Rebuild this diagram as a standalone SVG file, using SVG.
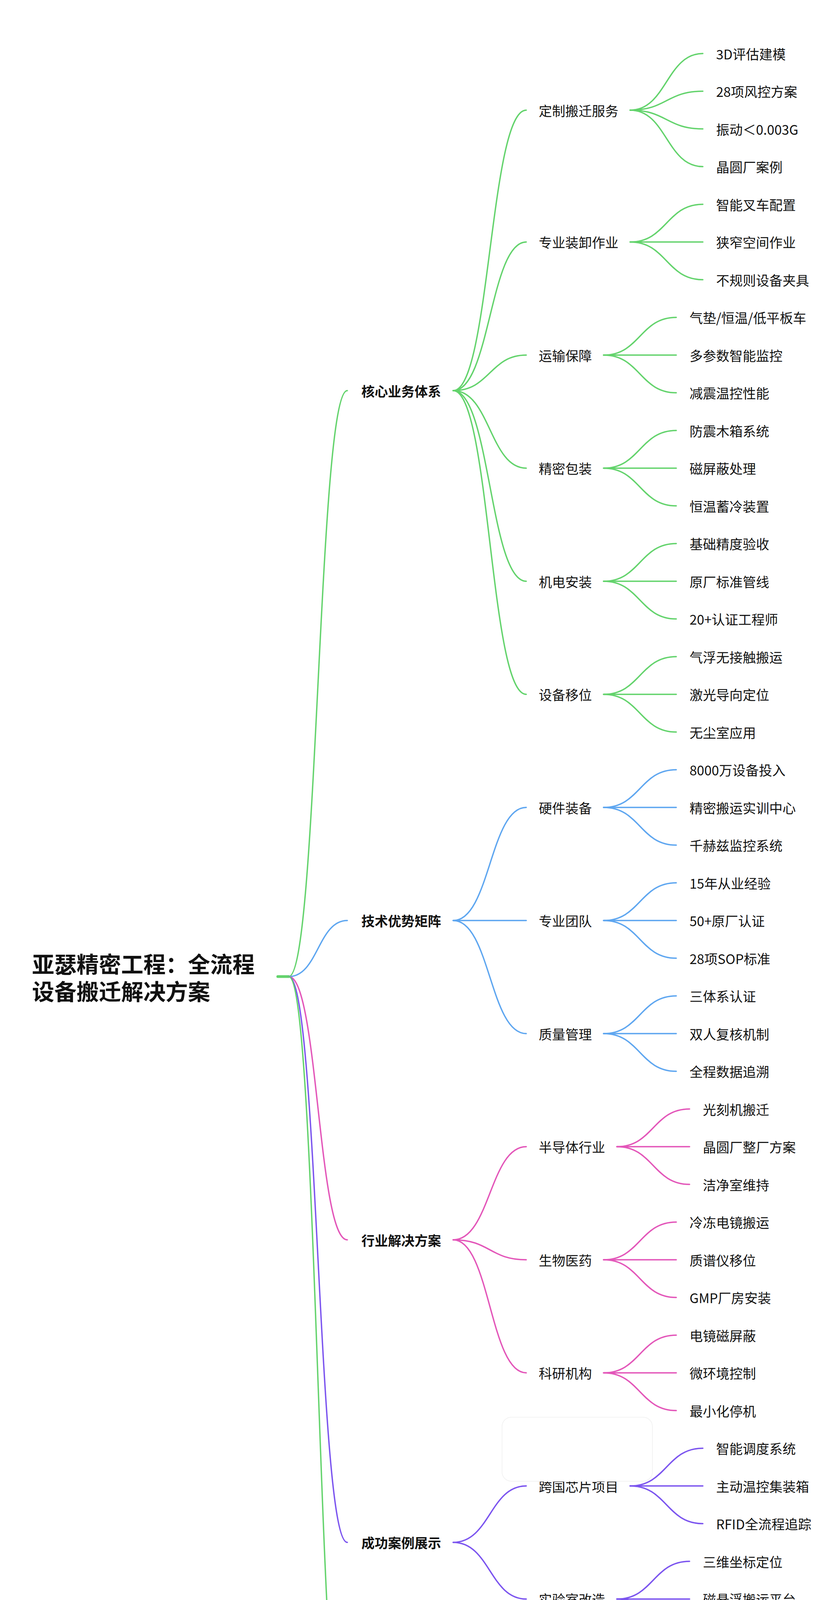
<svg xmlns="http://www.w3.org/2000/svg" width="2145" height="5000" viewBox="0 0 2145 5000">
<style>
text{font-family:"Noto Sans CJK SC","Noto Sans",sans-serif;font-size:34px;fill:#111;dominant-baseline:central}
.t{font-size:57px;font-weight:bold}
.l1{font-weight:bold}
path{fill:none;stroke-width:3.5;stroke-linecap:round}
.g{stroke:#63d36c}.b{stroke:#5ea6f0}.p{stroke:#e356b9}.u{stroke:#7b54ef}
</style>
<rect width="2145" height="5000" fill="#fff"/>
<g id="connectors">
<path class="g" d="M711,2500 H739" style="stroke-width:7"/>
<path class="g" d="M739,2500 C814,2500 814,1000 889,1000"/>
<path class="b" d="M739,2500 C814,2500 814,2356.5 889,2356.5"/>
<path class="p" d="M739,2500 C814,2500 814,3174 889,3174"/>
<path class="u" d="M739,2500 C814,2500 814,3948.5 889,3948.5"/>
<path class="g" d="M739,2500 C814,2500 814,4573 889,4573"/>
<path class="g" d="M1160,1000 C1254,1000 1254,282 1347,282"/>
<path class="g" d="M1160,1000 C1254,1000 1254,619.5 1347,619.5"/>
<path class="g" d="M1160,1000 C1254,1000 1254,909 1347,909"/>
<path class="g" d="M1160,1000 C1254,1000 1254,1198.5 1347,1198.5"/>
<path class="g" d="M1160,1000 C1254,1000 1254,1488 1347,1488"/>
<path class="g" d="M1160,1000 C1254,1000 1254,1777.5 1347,1777.5"/>
<path class="b" d="M1160,2356.5 C1254,2356.5 1254,2067 1347,2067"/>
<path class="b" d="M1160,2356.5 H1347"/>
<path class="b" d="M1160,2356.5 C1254,2356.5 1254,2646 1347,2646"/>
<path class="p" d="M1160,3174 C1254,3174 1254,2935.5 1347,2935.5"/>
<path class="p" d="M1160,3174 C1254,3174 1254,3225 1347,3225"/>
<path class="p" d="M1160,3174 C1254,3174 1254,3514.5 1347,3514.5"/>
<path class="u" d="M1160,3948.5 C1254,3948.5 1254,3804 1347,3804"/>
<path class="u" d="M1160,3948.5 C1254,3948.5 1254,4093.5 1347,4093.5"/>
<path class="g" d="M1091,4573 C1185,4573 1185,4334.75 1279,4334.75"/>
<path class="g" d="M1091,4573 C1185,4573 1185,4479.5 1279,4479.5"/>
<path class="g" d="M1091,4573 C1185,4573 1185,4576 1279,4576"/>
<path class="g" d="M1091,4573 C1185,4573 1185,4672.5 1279,4672.5"/>
<path class="g" d="M1091,4573 C1185,4573 1185,4769 1279,4769"/>
<path class="g" d="M1091,4573 C1185,4573 1185,4865.5 1279,4865.5"/>
<path class="g" d="M1613,282 C1706,282 1706,137 1799,137"/>
<path class="g" d="M1613,282 C1706,282 1706,233.5 1799,233.5"/>
<path class="g" d="M1613,282 C1706,282 1706,330 1799,330"/>
<path class="g" d="M1613,282 C1706,282 1706,426.5 1799,426.5"/>
<path class="g" d="M1613,619.5 C1706,619.5 1706,523 1799,523"/>
<path class="g" d="M1613,619.5 H1799"/>
<path class="g" d="M1613,619.5 C1706,619.5 1706,716 1799,716"/>
<path class="g" d="M1545,909 C1638,909 1638,812.5 1731,812.5"/>
<path class="g" d="M1545,909 H1731"/>
<path class="g" d="M1545,909 C1638,909 1638,1005.5 1731,1005.5"/>
<path class="g" d="M1545,1198.5 C1638,1198.5 1638,1102 1731,1102"/>
<path class="g" d="M1545,1198.5 H1731"/>
<path class="g" d="M1545,1198.5 C1638,1198.5 1638,1295 1731,1295"/>
<path class="g" d="M1545,1488 C1638,1488 1638,1391.5 1731,1391.5"/>
<path class="g" d="M1545,1488 H1731"/>
<path class="g" d="M1545,1488 C1638,1488 1638,1584.5 1731,1584.5"/>
<path class="g" d="M1545,1777.5 C1638,1777.5 1638,1681 1731,1681"/>
<path class="g" d="M1545,1777.5 H1731"/>
<path class="g" d="M1545,1777.5 C1638,1777.5 1638,1874 1731,1874"/>
<path class="b" d="M1545,2067 C1638,2067 1638,1970.5 1731,1970.5"/>
<path class="b" d="M1545,2067 H1731"/>
<path class="b" d="M1545,2067 C1638,2067 1638,2163.5 1731,2163.5"/>
<path class="b" d="M1545,2356.5 C1638,2356.5 1638,2260 1731,2260"/>
<path class="b" d="M1545,2356.5 H1731"/>
<path class="b" d="M1545,2356.5 C1638,2356.5 1638,2453 1731,2453"/>
<path class="b" d="M1545,2646 C1638,2646 1638,2549.5 1731,2549.5"/>
<path class="b" d="M1545,2646 H1731"/>
<path class="b" d="M1545,2646 C1638,2646 1638,2742.5 1731,2742.5"/>
<path class="p" d="M1579,2935.5 C1672,2935.5 1672,2839 1765,2839"/>
<path class="p" d="M1579,2935.5 H1765"/>
<path class="p" d="M1579,2935.5 C1672,2935.5 1672,3032 1765,3032"/>
<path class="p" d="M1545,3225 C1638,3225 1638,3128.5 1731,3128.5"/>
<path class="p" d="M1545,3225 H1731"/>
<path class="p" d="M1545,3225 C1638,3225 1638,3321.5 1731,3321.5"/>
<path class="p" d="M1545,3514.5 C1638,3514.5 1638,3418 1731,3418"/>
<path class="p" d="M1545,3514.5 H1731"/>
<path class="p" d="M1545,3514.5 C1638,3514.5 1638,3611 1731,3611"/>
<path class="u" d="M1613,3804 C1706,3804 1706,3707.5 1799,3707.5"/>
<path class="u" d="M1613,3804 H1799"/>
<path class="u" d="M1613,3804 C1706,3804 1706,3900.5 1799,3900.5"/>
<path class="u" d="M1579,4093.5 C1672,4093.5 1672,3997 1765,3997"/>
<path class="u" d="M1579,4093.5 H1765"/>
<path class="u" d="M1579,4093.5 C1672,4093.5 1672,4190 1765,4190"/>
<path class="g" d="M1477,4334.75 C1570,4334.75 1570,4286.5 1663,4286.5"/>
<path class="g" d="M1477,4334.75 C1570,4334.75 1570,4383 1663,4383"/>
<path class="g" d="M1477,4479.5 H1663"/>
<path class="g" d="M1477,4576 H1663"/>
<path class="g" d="M1477,4672.5 H1663"/>
<path class="g" d="M1477,4769 H1663"/>
<path class="g" d="M1477,4865.5 H1663"/>
</g>
<g id="root"><text class="t" x="82" y="2465">亚瑟精密工程：全流程</text><text class="t" x="82" y="2535">设备搬迁解决方案</text></g>
<g id="n-core"><text class="l1" x="925" y="1000">核心业务体系</text></g>
<g id="n-tech"><text class="l1" x="925" y="2356.5">技术优势矩阵</text></g>
<g id="n-ind"><text class="l1" x="925" y="3174">行业解决方案</text></g>
<g id="n-case"><text class="l1" x="925" y="3948.5">成功案例展示</text></g>
<g id="n-choice"><text class="l1" x="925" y="4573">选择优势</text></g>
<g id="level2">
<text x="1379" y="282">定制搬迁服务</text>
<text x="1379" y="619.5">专业装卸作业</text>
<text x="1379" y="909">运输保障</text>
<text x="1379" y="1198.5">精密包装</text>
<text x="1379" y="1488">机电安装</text>
<text x="1379" y="1777.5">设备移位</text>
<text x="1379" y="2067">硬件装备</text>
<text x="1379" y="2356.5">专业团队</text>
<text x="1379" y="2646">质量管理</text>
<text x="1379" y="2935.5">半导体行业</text>
<text x="1379" y="3225">生物医药</text>
<text x="1379" y="3514.5">科研机构</text>
<text x="1379" y="3804">跨国芯片项目</text>
<text x="1379" y="4093.5">实验室改造</text>
<text x="1311" y="4334.75">专业保障</text>
<text x="1311" y="4479.5">尖端装备</text>
<text x="1311" y="4576">全程保险</text>
<text x="1311" y="4672.5">数字管理</text>
<text x="1311" y="4769">成本优化</text>
<text x="1311" y="4865.5">快速响应</text>
</g>
<g id="leaves">
<text x="1833" y="137">3D评估建模</text>
<text x="1833" y="233.5">28项风控方案</text>
<text x="1833" y="330">振动＜0.003G</text>
<text x="1833" y="426.5">晶圆厂案例</text>
<text x="1833" y="523">智能叉车配置</text>
<text x="1833" y="619.5">狭窄空间作业</text>
<text x="1833" y="716">不规则设备夹具</text>
<text x="1765" y="812.5">气垫/恒温/低平板车</text>
<text x="1765" y="909">多参数智能监控</text>
<text x="1765" y="1005.5">减震温控性能</text>
<text x="1765" y="1102">防震木箱系统</text>
<text x="1765" y="1198.5">磁屏蔽处理</text>
<text x="1765" y="1295">恒温蓄冷装置</text>
<text x="1765" y="1391.5">基础精度验收</text>
<text x="1765" y="1488">原厂标准管线</text>
<text x="1765" y="1584.5">20+认证工程师</text>
<text x="1765" y="1681">气浮无接触搬运</text>
<text x="1765" y="1777.5">激光导向定位</text>
<text x="1765" y="1874">无尘室应用</text>
<text x="1765" y="1970.5">8000万设备投入</text>
<text x="1765" y="2067">精密搬运实训中心</text>
<text x="1765" y="2163.5">千赫兹监控系统</text>
<text x="1765" y="2260">15年从业经验</text>
<text x="1765" y="2356.5">50+原厂认证</text>
<text x="1765" y="2453">28项SOP标准</text>
<text x="1765" y="2549.5">三体系认证</text>
<text x="1765" y="2646">双人复核机制</text>
<text x="1765" y="2742.5">全程数据追溯</text>
<text x="1799" y="2839">光刻机搬迁</text>
<text x="1799" y="2935.5">晶圆厂整厂方案</text>
<text x="1799" y="3032">洁净室维持</text>
<text x="1765" y="3128.5">冷冻电镜搬运</text>
<text x="1765" y="3225">质谱仪移位</text>
<text x="1765" y="3321.5">GMP厂房安装</text>
<text x="1765" y="3418">电镜磁屏蔽</text>
<text x="1765" y="3514.5">微环境控制</text>
<text x="1765" y="3611">最小化停机</text>
<text x="1833" y="3707.5">智能调度系统</text>
<text x="1833" y="3804">主动温控集装箱</text>
<text x="1833" y="3900.5">RFID全流程追踪</text>
<text x="1799" y="3997">三维坐标定位</text>
<text x="1799" y="4093.5">磁悬浮搬运平台</text>
<text x="1799" y="4190">分阶段搬迁</text>
<text x="1697" y="4286.5">15年行业经验</text>
<text x="1697" y="4383">1000+成功案例</text>
<text x="1697" y="4479.5">持续装备投入</text>
<text x="1697" y="4576">2亿元单项目保额</text>
<text x="1697" y="4672.5">智能可视化系统</text>
<text x="1697" y="4769">节省25%成本</text>
<text x="1697" y="4865.5">7×24应急体系</text>
</g>
<rect x="1285" y="3628" width="385" height="164" rx="24" fill="#fff" stroke="#f3f3f3" stroke-width="2"/>
</svg>
